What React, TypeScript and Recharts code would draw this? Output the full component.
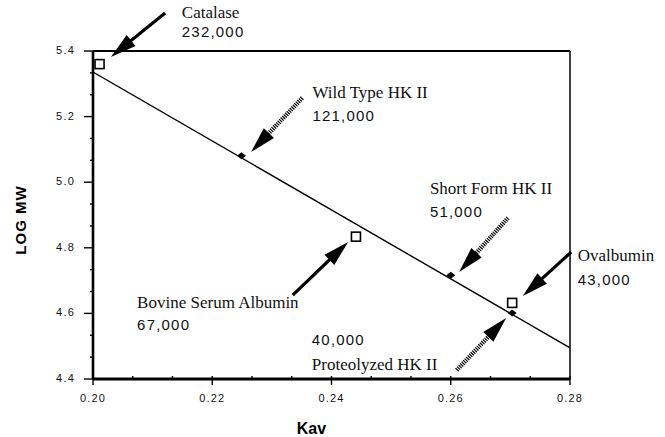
import React from 'react';
import { ComposedChart, XAxis, YAxis, Scatter, ReferenceLine, ReferenceDot } from 'recharts';

// axis ticks
const kavTicks = [0.2, 0.22, 0.24, 0.26, 0.28];
const logTicks = [4.4, 4.6, 4.8, 5.0, 5.2, 5.4];

// calibration standards (open squares)
const standardNames = ['Catalase', 'Bovine Serum Albumin', 'Ovalbumin'];
const standardKav = [0.2011, 0.2441, 0.2703];
const standardLogMw = [5.36, 4.834, 4.632];

// hexokinase II forms (filled diamonds)
const hkNames = ['Wild Type HK II', 'Short Form HK II', 'Proteolyzed HK II'];
const hkKav = [0.2249, 0.26, 0.2703];
const hkLogMw = [5.081, 4.716, 4.601];

// fitted calibration line
const fitKav = [0.2, 0.28];
const fitLogMw = [5.336, 4.495];

// annotation text, anchored in data units (left edge, middle)
const noteText = [
  'Catalase', '232,000',
  'Wild Type HK II', '121,000',
  'Short Form HK II', '51,000',
  'Ovalbumin', '43,000',
  'Bovine Serum Albumin', '67,000',
  '40,000', 'Proteolyzed HK II',
];
const noteSerif = [true, false, true, false, true, false, true, false, true, false, false, true];
const noteKav = [0.2149, 0.2149, 0.2368, 0.2368, 0.2565, 0.2565, 0.2813, 0.2813, 0.2074, 0.2074, 0.2367, 0.2367];
const noteLog = [5.516, 5.458, 5.272, 5.202, 4.982, 4.912, 4.778, 4.702, 4.632, 4.565, 4.519, 4.443];

// arrows: tail -> tip, dotted shaft for HK II forms
const arrowFrom = [[0.2121, 5.516], [0.2351, 5.257], [0.2335, 4.656], [0.2696, 4.891], [0.2802, 4.787], [0.261, 4.427]];
const arrowTo = [[0.203, 5.382], [0.2265, 5.092], [0.2428, 4.818], [0.2614, 4.726], [0.2721, 4.653], [0.2693, 4.586]];
const arrowDotted = [false, true, false, true, false, true];

const standards = standardNames.map((n, i) => ({ name: n, kav: standardKav[i], logmw: standardLogMw[i] }));
const hkForms = hkNames.map((n, i) => ({ name: n, kav: hkKav[i], logmw: hkLogMw[i] }));
const fitData = fitKav.map((k, i) => ({ kav: k, logmw: fitLogMw[i] }));

// minor ticks at thirds between the labelled ones
const thirds = (t: number[]) => {
  const out: number[] = [];
  t.forEach((v, i) => {
    out.push(v);
    if (i < t.length - 1) {
      const s = (t[i + 1] - v) / 3;
      out.push(v + s, v + 2 * s);
    }
  });
  return out;
};
const kavAll = thirds(kavTicks);
const logAll = thirds(logTicks);

const SANS = '"Liberation Sans", Arial, sans-serif';
const SERIF = '"Liberation Serif", "Times New Roman", serif';

const isMajor = (list: number[], v: number) => list.some((t) => Math.abs(t - v) < 1e-6);

const KavTick = (p: any) => {
  const v = p.payload.value;
  const major = isMajor(kavTicks, v);
  return (
    <g>
      <line x1={p.x} x2={p.x} y1={p.y - 3} y2={p.y + (major ? 6 : 0)} stroke="#000" strokeWidth={1.4} />
      {major && (
        <text x={p.x} y={p.y + 23} textAnchor="middle" fontFamily={SANS} fontSize={11} letterSpacing={1.2} fill="#111">
          {v.toFixed(2)}
        </text>
      )}
    </g>
  );
};

const LogTick = (p: any) => {
  const v = p.payload.value;
  const major = isMajor(logTicks, v);
  return (
    <g>
      <line x1={p.x - (major ? 9 : 3)} x2={p.x} y1={p.y} y2={p.y} stroke="#000" strokeWidth={1.4} />
      {major && (
        <text x={p.x - 18} y={p.y + 3} textAnchor="end" fontFamily={SANS} fontSize={11} letterSpacing={1.2} fill="#111">
          {v.toFixed(1)}
        </text>
      )}
    </g>
  );
};

const drawArrow = (p: any, dotted: boolean) => {
  const { x1, y1, x2, y2 } = p;
  const dx = x2 - x1;
  const dy = y2 - y1;
  const len = Math.sqrt(dx * dx + dy * dy) || 1;
  const ux = dx / len;
  const uy = dy / len;
  const head = 26;
  const half = 7;
  const bx = x2 - ux * head;
  const by = y2 - uy * head;
  const pts = `${x2},${y2} ${bx - uy * half},${by + ux * half} ${bx + uy * half},${by - ux * half}`;
  return (
    <g>
      <line
        x1={x1}
        y1={y1}
        x2={bx + ux * 2}
        y2={by + uy * 2}
        stroke="#000"
        strokeWidth={dotted ? 4.5 : 3.2}
        strokeDasharray={dotted ? '1.2 1' : undefined}
      />
      <polygon points={pts} fill="#000" />
    </g>
  );
};

const Square = (p: any) => (
  <rect x={p.cx - 4.5} y={p.cy - 4.5} width={9} height={9} fill="#fff" stroke="#000" strokeWidth={1.6} />
);

const Diamond = (p: any) => (
  <polygon
    points={`${p.cx - 4.5},${p.cy} ${p.cx},${p.cy - 3.5} ${p.cx + 4.5},${p.cy} ${p.cx},${p.cy + 3.5}`}
    fill="#000"
  />
);

export default function App() {
  return (
    <div style={{ width: 665, height: 437 }}>
      <style>{'body{margin:0}'}</style>
      <ComposedChart width={665} height={437} margin={{ top: 51, right: 95, bottom: 28, left: 33 }}>
        <XAxis
          type="number"
          dataKey="kav"
          domain={[0.2, 0.28]}
          ticks={kavAll}
          interval={0}
          height={30}
          tickSize={0}
          tickMargin={0}
          tickLine={false}
          tick={<KavTick />}
          axisLine={{ stroke: '#000', strokeWidth: 3 }}
          allowDataOverflow
          label={(lp: any) => {
            const vb = lp.viewBox || {};
            return (
              <text
                x={vb.x + vb.width / 2 - 20}
                y={vb.y + vb.height + 25}
                textAnchor="middle"
                fontFamily={SANS}
                fontWeight="bold"
                fontSize={16}
                fill="#000"
              >
                Kav
              </text>
            );
          }}
        />
        <YAxis
          type="number"
          dataKey="logmw"
          domain={[4.4, 5.4]}
          ticks={logAll}
          interval={0}
          width={60}
          tickSize={0}
          tickMargin={0}
          tickLine={false}
          tick={<LogTick />}
          axisLine={{ stroke: '#000', strokeWidth: 2.6 }}
          allowDataOverflow
          label={(lp: any) => {
            const vb = lp.viewBox || {};
            const cx = vb.x - 13;
            const cy = vb.y + vb.height / 2 + 5;
            return (
              <text
                x={cx}
                y={cy}
                transform={`rotate(-90 ${cx} ${cy})`}
                textAnchor="middle"
                dominantBaseline="central"
                fontFamily={SANS}
                fontWeight="bold"
                fontSize={15}
                letterSpacing={1}
                fill="#000"
              >
                LOG MW
              </text>
            );
          }}
        />
        <ReferenceLine y={5.4} stroke="#000" strokeWidth={1.8} />
        <ReferenceLine x={0.28} stroke="#000" strokeWidth={1.5} />

        <Scatter
          data={fitData}
          line={{ stroke: '#000', strokeWidth: 1.4 }}
          shape={() => <g />}
          isAnimationActive={false}
        />
        <Scatter data={hkForms} shape={<Diamond />} isAnimationActive={false} />
        <Scatter data={standards} shape={<Square />} isAnimationActive={false} />

        {arrowFrom.map((f, i) => (
          <ReferenceLine
            key={`arrow-${i}`}
            segment={[
              { x: f[0], y: f[1] },
              { x: arrowTo[i][0], y: arrowTo[i][1] },
            ]}
            ifOverflow="visible"
            shape={(p: any) => drawArrow(p, arrowDotted[i])}
          />
        ))}

        {noteText.map((t, i) => (
          <ReferenceDot
            key={`note-${i}`}
            x={noteKav[i]}
            y={noteLog[i]}
            r={0}
            ifOverflow="visible"
            shape={(p: any) => (
              <text
                x={p.cx}
                y={p.cy}
                dominantBaseline="central"
                fontFamily={noteSerif[i] ? SERIF : SANS}
                fontSize={noteSerif[i] ? 17 : 15}
                letterSpacing={noteSerif[i] ? 0 : 1.2}
                fill="#111"
              >
                {t}
              </text>
            )}
          />
        ))}
      </ComposedChart>
    </div>
  );
}
